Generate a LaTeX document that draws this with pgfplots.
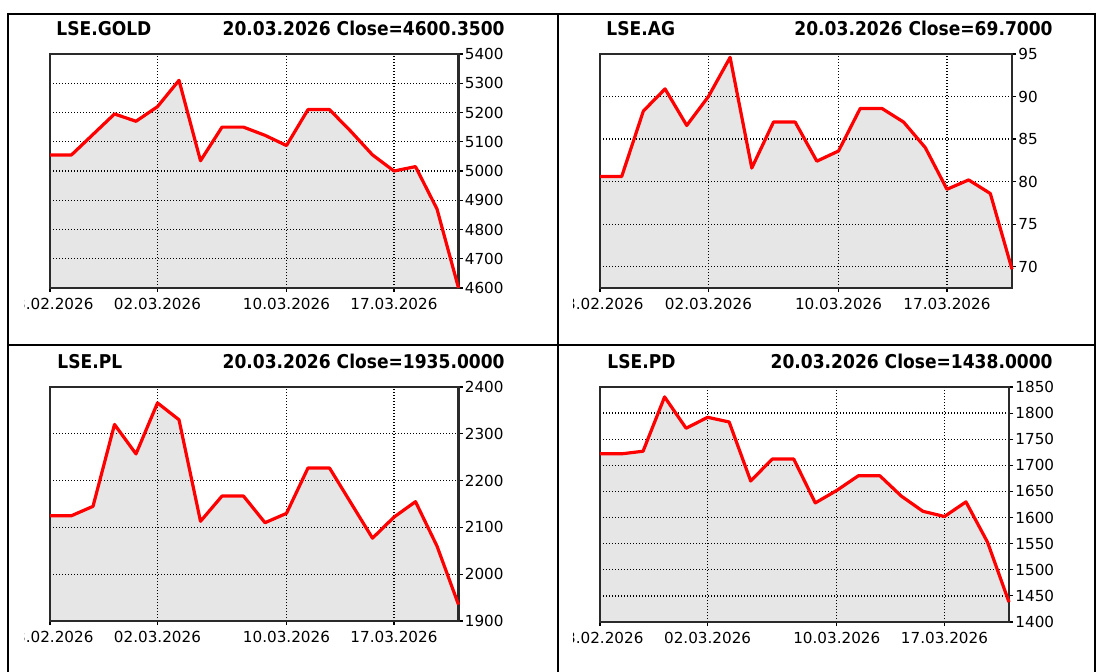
\documentclass[border=0pt]{standalone}
\usepackage{fontspec}
\setmainfont{DejaVu Sans}
\newfontfamily\titlefont{DejaVu Sans Condensed Bold}
\usepackage{pgfplots}
\pgfplotsset{compat=1.18}
\usepackage{pgfplotstable}
\definecolor{areagray}{HTML}{E6E6E6}
\definecolor{framegray}{HTML}{2A2A2A}

% trading days 23.02.2026 .. 20.03.2026, index 0..19
\pgfplotstableread{
i gold ag pl pd
0 5055 80.6 2125 1722
1 5055 80.6 2125 1722
2 5125 88.3 2145 1727
3 5195 90.9 2320 1831
4 5170 86.6 2257 1771
5 5220 90.0 2366 1792
6 5310 94.6 2330 1783
7 5035 81.6 2113 1670
8 5150 87.0 2167 1712
9 5150 87.0 2167 1712
10 5122 82.4 2110 1628
11 5087 83.6 2130 1652
12 5210 88.6 2227 1680
13 5210 88.6 2227 1680
14 5135 87.0 2152 1641
15 5055 84.0 2077 1612
16 5000 79.1 2122 1602
17 5015 80.2 2155 1630
18 4870 78.6 2060 1553
19 4600.35 69.7 1935 1438
}\prices

\newcommand\tfont{\titlefont\fontsize{9.5}{11}\selectfont}

\pgfplotsset{
  quote/.style={
    scale only axis,
    anchor=south west,
    xmin=0, xmax=19,
    axis on top,
    xtick={0,5,11,16},
    xticklabels={23.02.2026,02.03.2026,10.03.2026,17.03.2026},
    xtick pos=bottom, ytick pos=right, yticklabel pos=right,
    tick align=outside,
    major tick length=2pt,
    grid=major,
    major grid style={black, line width=0.65pt, dash pattern=on 0.6pt off 0.9pt},
    axis line style={framegray, line width=1.1pt},
    major tick style={black, line width=0.6pt},
    tick label style={font=\fontsize{7.6}{8}\selectfont, inner sep=0pt},
    /pgf/number format/assume math mode=true,
    /pgf/number format/1000 sep={},
    xticklabel style={yshift=-3pt},
    yticklabel style={xshift=1pt},
  },
  redline/.style={
    scale only axis, anchor=south west,
    xmin=0, xmax=19, hide axis, clip=false,
  },
}

\begin{document}
\begin{tikzpicture}
\useasboundingbox (0,0) rectangle (548pt,-336pt);

% table borders and titles, in pixel units
\begin{scope}[x=0.5pt, y=-0.5pt]
  \draw[line width=1pt] (8,14) -- (1096,14);
  \draw[line width=1pt] (8,13) -- (8,672);
  \draw[line width=1pt] (558,13) -- (558,672);
  \draw[line width=1pt] (1095,13) -- (1095,672);
  \draw[line width=1pt] (8,345) -- (1096,345);

  \node[anchor=base west, inner sep=0pt, font=\tfont] at (56,36) {LSE.GOLD};
  \node[anchor=base east, inner sep=0pt, font=\tfont] at (505,36) {20.03.2026 Close=4600.3500};
  \node[anchor=base west, inner sep=0pt, font=\tfont] at (606,36) {LSE.AG};
  \node[anchor=base east, inner sep=0pt, font=\tfont] at (1053,36) {20.03.2026 Close=69.7000};
  \node[anchor=base west, inner sep=0pt, font=\tfont] at (57,369) {LSE.PL};
  \node[anchor=base east, inner sep=0pt, font=\tfont] at (505,369) {20.03.2026 Close=1935.0000};
  \node[anchor=base west, inner sep=0pt, font=\tfont] at (607,369) {LSE.PD};
  \node[anchor=base east, inner sep=0pt, font=\tfont] at (1053,369) {20.03.2026 Close=1438.0000};
\end{scope}

% LSE.GOLD
\begin{scope}
\clip (12pt,-7pt) rectangle (278pt,-172pt);
\begin{axis}[quote, at={(25pt,-144pt)}, width=204.25pt, height=117pt,
    ymin=4600, ymax=5400, ytick={4600,4700,...,5400}]
  \addplot[draw=none, fill=areagray] table[x=i, y=gold]{\prices} \closedcycle;
\end{axis}
\begin{axis}[redline, at={(25pt,-144pt)}, width=204.25pt, height=117pt,
    ymin=4600, ymax=5400]
  \addplot[red, line width=1.6pt, line join=round] table[x=i, y=gold]{\prices};
\end{axis}
\end{scope}

% LSE.AG
\begin{scope}
\clip (286.5pt,-7pt) rectangle (548pt,-172pt);
\begin{axis}[quote, at={(300pt,-144pt)}, width=206pt, height=117pt,
    ymin=67.5, ymax=95, ytick={70,75,...,95}]
  \addplot[draw=none, fill=areagray] table[x=i, y=ag]{\prices} \closedcycle;
\end{axis}
\begin{axis}[redline, at={(300pt,-144pt)}, width=206pt, height=117pt,
    ymin=67.5, ymax=95]
  \addplot[red, line width=1.6pt, line join=round] table[x=i, y=ag]{\prices};
\end{axis}
\end{scope}

% LSE.PL
\begin{scope}
\clip (12pt,-173pt) rectangle (278pt,-336pt);
\begin{axis}[quote, at={(25pt,-310.5pt)}, width=204.25pt, height=117pt,
    ymin=1900, ymax=2400, ytick={1900,2000,...,2400}]
  \addplot[draw=none, fill=areagray] table[x=i, y=pl]{\prices} \closedcycle;
\end{axis}
\begin{axis}[redline, at={(25pt,-310.5pt)}, width=204.25pt, height=117pt,
    ymin=1900, ymax=2400]
  \addplot[red, line width=1.6pt, line join=round] table[x=i, y=pl]{\prices};
\end{axis}
\end{scope}

% LSE.PD
\begin{scope}
\clip (286.5pt,-173pt) rectangle (548pt,-336pt);
\begin{axis}[quote, at={(300pt,-311pt)}, width=204.5pt, height=117.5pt,
    ymin=1400, ymax=1850, ytick={1400,1450,...,1850}]
  \addplot[draw=none, fill=areagray] table[x=i, y=pd]{\prices} \closedcycle;
\end{axis}
\begin{axis}[redline, at={(300pt,-311pt)}, width=204.5pt, height=117.5pt,
    ymin=1400, ymax=1850]
  \addplot[red, line width=1.6pt, line join=round] table[x=i, y=pd]{\prices};
\end{axis}
\end{scope}
\end{tikzpicture}
\end{document}
